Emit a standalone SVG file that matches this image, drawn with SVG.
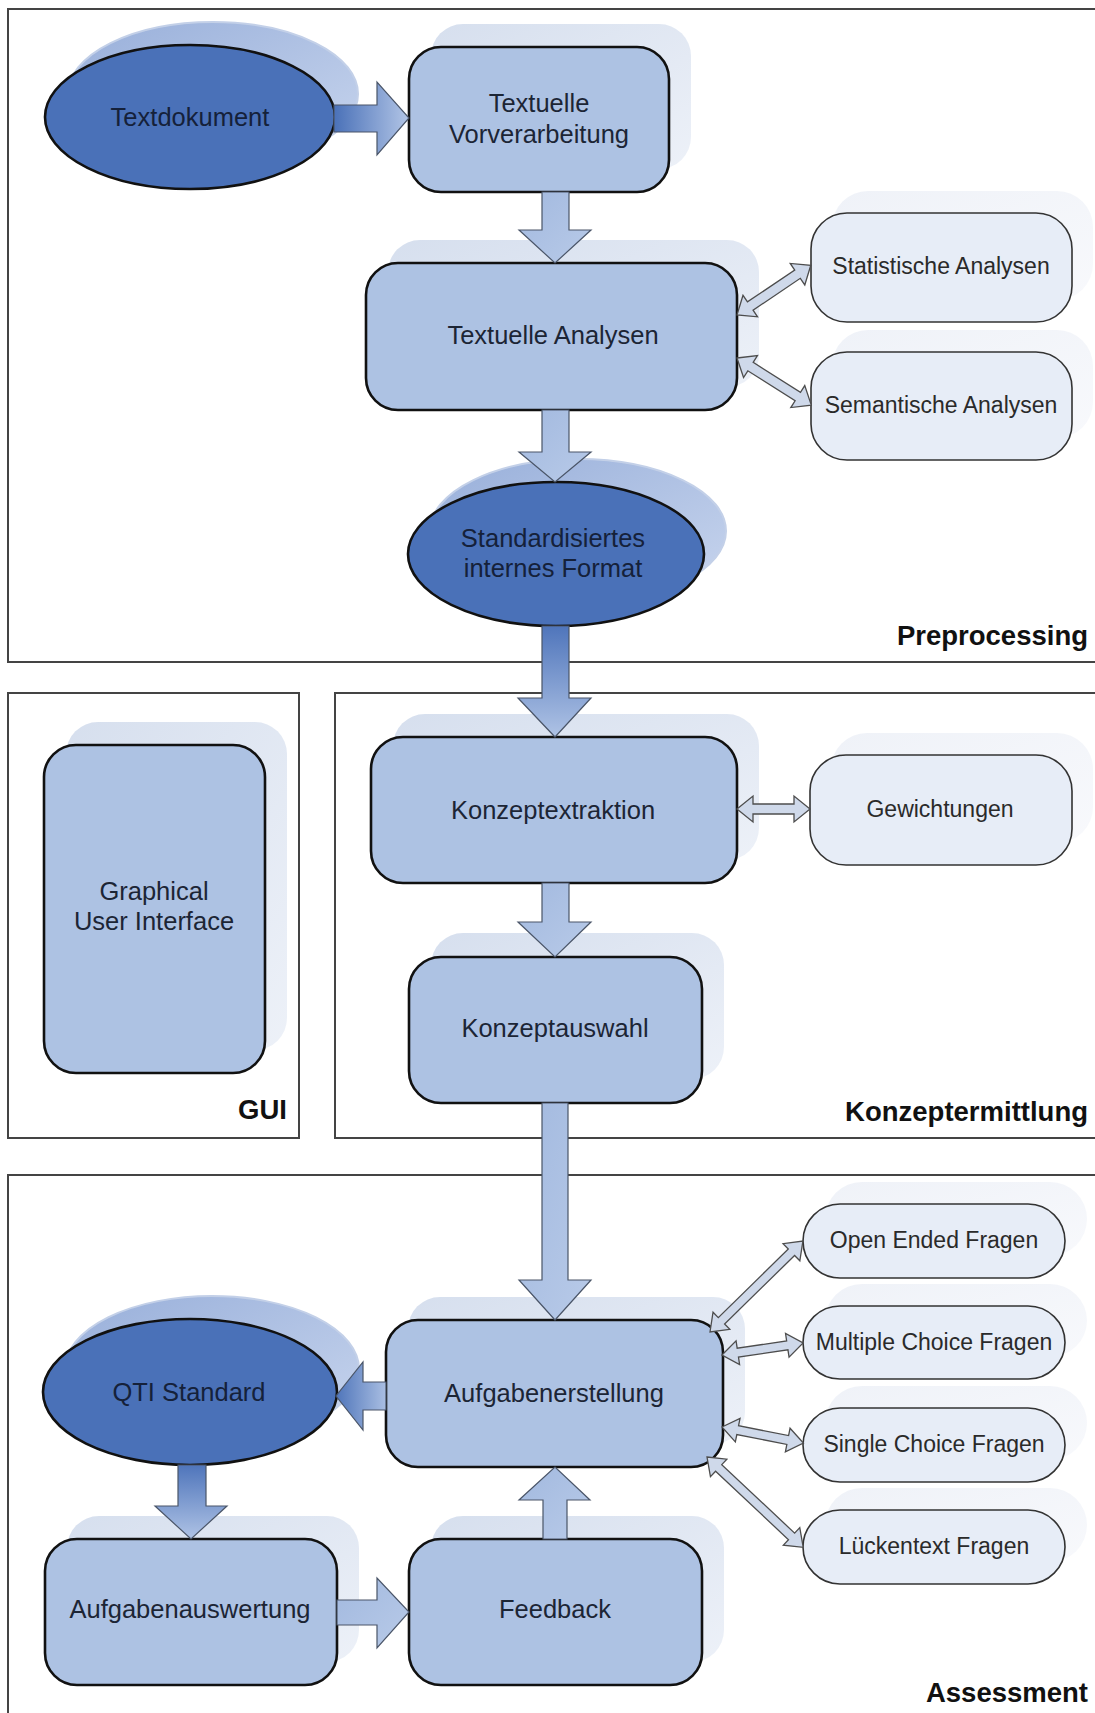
<svg xmlns="http://www.w3.org/2000/svg" width="1095" height="1713" viewBox="0 0 1095 1713">
<style>
.frame{fill:none;stroke:#444;stroke-width:2}
.box{fill:#adc2e3;stroke:#111;stroke-width:2.6}
.ell{fill:#4a71b8;stroke:#111;stroke-width:2.6}
.sat{fill:#e7edf7;stroke:#333;stroke-width:1.6}
.bsh{fill:url(#gBoxSh)}
.esh{fill:url(#gEllSh);stroke:#c3d0e8;stroke-width:2}
.ssh{fill:url(#gSatSh)}
.blk{stroke:#4a5568;stroke-width:1.2}
.dbl{fill:#cfd9ea;stroke:#4d4d4d;stroke-width:1.3}
.t{font-family:"Liberation Sans",Arial,sans-serif;font-size:25.5px;fill:#1c2535;text-anchor:middle}
.te{font-family:"Liberation Sans",Arial,sans-serif;font-size:25.5px;fill:#15213a;text-anchor:middle}
.s{font-family:"Liberation Sans",Arial,sans-serif;font-size:23px;fill:#2a2a2a;text-anchor:middle}
.lbl{font-family:"Liberation Sans",Arial,sans-serif;font-size:27.5px;font-weight:bold;fill:#111;text-anchor:end}
</style>
<defs>
<linearGradient id="gBoxSh" x1="0" y1="0" x2="1" y2="1">
<stop offset="0" stop-color="#d6dfee"/><stop offset="1" stop-color="#edf1f8"/>
</linearGradient>
<linearGradient id="gEllSh" x1="0" y1="0" x2="1" y2="1">
<stop offset="0" stop-color="#98afda"/><stop offset="1" stop-color="#c9d6ee"/>
</linearGradient>
<linearGradient id="gSatSh" x1="0" y1="0" x2="1" y2="1">
<stop offset="0" stop-color="#eff2f8"/><stop offset="1" stop-color="#f8f9fc"/>
</linearGradient>
<linearGradient id="gR" x1="0" y1="0" x2="1" y2="0">
<stop offset="0" stop-color="#4a71b8"/><stop offset="1" stop-color="#b2c5e6"/>
</linearGradient>
<linearGradient id="gL" x1="1" y1="0" x2="0" y2="0">
<stop offset="0" stop-color="#a9bee2"/><stop offset="1" stop-color="#4f75ba"/>
</linearGradient>
<linearGradient id="gD" x1="0" y1="0" x2="0" y2="1">
<stop offset="0" stop-color="#4f75bb"/><stop offset="1" stop-color="#afc3e5"/>
</linearGradient>
<linearGradient id="gLight" x1="0" y1="0" x2="1" y2="1">
<stop offset="0" stop-color="#a2b9df"/><stop offset="1" stop-color="#b8cae8"/>
</linearGradient>
</defs>
<rect width="1095" height="1713" fill="#fff"/>

<g id="frames">
<rect class="frame" x="8" y="9" width="1100" height="653"/>
<rect class="frame" x="8" y="693" width="291" height="445"/>
<rect class="frame" x="335" y="693" width="770" height="445"/>
<rect class="frame" x="8" y="1175" width="1100" height="600"/>
<text class="lbl" x="1088" y="645">Preprocessing</text>
<text class="lbl" x="287" y="1119">GUI</text>
<text class="lbl" x="1088" y="1121">Konzeptermittlung</text>
<text class="lbl" x="1088" y="1702">Assessment</text>
</g>

<g id="node-textdokument">
<ellipse class="esh" cx="213" cy="94" rx="145" ry="72"/>
<ellipse class="ell" cx="190" cy="117" rx="145" ry="72"/>
<text class="te" x="190" y="126">Textdokument</text>
</g>

<g id="node-vorverarbeitung">
<rect class="bsh" x="431" y="24" width="260" height="145" rx="32"/>
<rect class="box" x="409" y="47" width="260" height="145" rx="32"/>
<text class="t" x="539" y="112">Textuelle</text>
<text class="t" x="539" y="143">Vorverarbeitung</text>
</g>

<g id="node-textuelle-analysen">
<rect class="bsh" x="388" y="240" width="371" height="147" rx="32"/>
<rect class="box" x="366" y="263" width="371" height="147" rx="32"/>
<text class="t" x="553" y="344">Textuelle Analysen</text>
</g>

<g id="node-statistische">
<rect class="ssh" x="832" y="191" width="261" height="109" rx="36"/>
<rect class="sat" x="811" y="213" width="261" height="109" rx="36"/>
<text class="s" x="941" y="274">Statistische Analysen</text>
</g>

<g id="node-semantische">
<rect class="ssh" x="832" y="330" width="261" height="108" rx="36"/>
<rect class="sat" x="811" y="352" width="261" height="108" rx="36"/>
<text class="s" x="941" y="413">Semantische Analysen</text>
</g>

<g id="node-standardisiert">
<ellipse class="esh" cx="578" cy="531" rx="148" ry="72"/>
<ellipse class="ell" cx="556" cy="554" rx="148" ry="72"/>
<text class="te" x="553" y="547">Standardisiertes</text>
<text class="te" x="553" y="577">internes Format</text>
</g>

<g id="node-gui">
<rect class="bsh" x="66" y="722" width="221" height="328" rx="32"/>
<rect class="box" x="44" y="745" width="221" height="328" rx="32"/>
<text class="t" x="154" y="900">Graphical</text>
<text class="t" x="154" y="930">User Interface</text>
</g>

<g id="node-konzeptextraktion">
<rect class="bsh" x="393" y="714" width="366" height="146" rx="32"/>
<rect class="box" x="371" y="737" width="366" height="146" rx="32"/>
<text class="t" x="553" y="819">Konzeptextraktion</text>
</g>

<g id="node-gewichtungen">
<rect class="ssh" x="831" y="733" width="262" height="110" rx="36"/>
<rect class="sat" x="810" y="755" width="262" height="110" rx="36"/>
<text class="s" x="940" y="817">Gewichtungen</text>
</g>

<g id="node-konzeptauswahl">
<rect class="bsh" x="431" y="933" width="293" height="146" rx="32"/>
<rect class="box" x="409" y="957" width="293" height="146" rx="32"/>
<text class="t" x="555" y="1037">Konzeptauswahl</text>
</g>

<g id="node-aufgabenerstellung">
<rect class="bsh" x="408" y="1297" width="337" height="147" rx="32"/>
<rect class="box" x="386" y="1320" width="337" height="147" rx="32"/>
<text class="t" x="554" y="1402">Aufgabenerstellung</text>
</g>

<g id="node-qti">
<ellipse class="esh" cx="212" cy="1369" rx="147" ry="73"/>
<ellipse class="ell" cx="190" cy="1392" rx="147" ry="73"/>
<text class="te" x="189" y="1401">QTI Standard</text>
</g>

<g id="node-aufgabenauswertung">
<rect class="bsh" x="67" y="1516" width="292" height="146" rx="32"/>
<rect class="box" x="45" y="1539" width="292" height="146" rx="32"/>
<text class="t" x="190" y="1618">Aufgabenauswertung</text>
</g>

<g id="node-feedback">
<rect class="bsh" x="431" y="1516" width="293" height="146" rx="32"/>
<rect class="box" x="409" y="1539" width="293" height="146" rx="32"/>
<text class="t" x="555" y="1618">Feedback</text>
</g>

<g id="node-open-ended">
<rect class="ssh" x="825" y="1182" width="262" height="74" rx="37"/>
<rect class="sat" x="803" y="1204" width="262" height="74" rx="37"/>
<text class="s" x="934" y="1248">Open Ended Fragen</text>
</g>

<g id="node-multiple-choice">
<rect class="ssh" x="825" y="1284" width="262" height="73" rx="37"/>
<rect class="sat" x="803" y="1306" width="262" height="73" rx="37"/>
<text class="s" x="934" y="1350">Multiple Choice Fragen</text>
</g>

<g id="node-single-choice">
<rect class="ssh" x="825" y="1386" width="262" height="74" rx="37"/>
<rect class="sat" x="803" y="1408" width="262" height="74" rx="37"/>
<text class="s" x="934" y="1452">Single Choice Fragen</text>
</g>

<g id="node-lueckentext">
<rect class="ssh" x="825" y="1488" width="262" height="74" rx="37"/>
<rect class="sat" x="803" y="1510" width="262" height="74" rx="37"/>
<text class="s" x="934" y="1554">Lückentext Fragen</text>
</g>

<g id="connectors">
<polygon class="blk" fill="url(#gR)" points="334,105 377,105 377,82 409,118 377,155 377,132 334,132"/>
<polygon class="blk" fill="url(#gLight)" points="542,192 569,192 569,230 591,230 555,263 519,230 542,230"/>
<polygon class="blk" fill="url(#gLight)" points="542,410 569,410 569,452 591,452 555,482 519,452 542,452"/>
<polygon class="blk" fill="url(#gD)" points="542,626 569,626 569,698 591,698 555,737 518,698 542,698"/>
<polygon class="blk" fill="url(#gLight)" points="542,883 569,883 569,922 591,922 555,957 518,922 542,922"/>
<polygon class="blk" fill="url(#gLight)" points="542,1103 568,1103 568,1280 591,1280 555,1320 519,1280 542,1280"/>
<polygon class="blk" fill="url(#gL)" points="386,1382 363,1382 363,1362 336,1396 363,1430 363,1410 386,1410"/>
<polygon class="blk" fill="url(#gD)" points="178,1465 206,1465 206,1506 227,1506 191,1539 155,1506 178,1506"/>
<polygon class="blk" fill="url(#gLight)" points="337,1600 377,1600 377,1578 409,1612 377,1648 377,1625 337,1625"/>
<polygon class="blk" fill="url(#gLight)" points="543,1539 567,1539 567,1500 590,1500 555,1467 519,1500 543,1500"/>

<path class="dbl" transform="translate(737,315) rotate(-34)" d="M0,0 L16,-13 L16,-5 L73,-5 L73,-13 L89,0 L73,13 L73,5 L16,5 L16,13 Z"/>
<path class="dbl" transform="translate(737,358) rotate(32.4)" d="M0,0 L16,-13 L16,-5 L72,-5 L72,-13 L88,0 L72,13 L72,5 L16,5 L16,13 Z"/>
<path class="dbl" transform="translate(737,809)" d="M0,0 L16,-13 L16,-5 L57,-5 L57,-13 L73,0 L57,13 L57,5 L16,5 L16,13 Z"/>
<path class="dbl" transform="translate(710,1332) rotate(-44.4)" d="M0,0 L16,-12 L16,-4.5 L114,-4.5 L114,-12 L130,0 L114,12 L114,4.5 L16,4.5 L16,12 Z"/>
<path class="dbl" transform="translate(722,1355) rotate(-8.4)" d="M0,0 L16,-12 L16,-4.5 L66,-4.5 L66,-12 L82,0 L66,12 L66,4.5 L16,4.5 L16,12 Z"/>
<path class="dbl" transform="translate(722,1427) rotate(11.2)" d="M0,0 L16,-12 L16,-4.5 L67,-4.5 L67,-12 L83,0 L67,12 L67,4.5 L16,4.5 L16,12 Z"/>
<path class="dbl" transform="translate(707,1457) rotate(43.2)" d="M0,0 L16,-12 L16,-4.5 L116,-4.5 L116,-12 L132,0 L116,12 L116,4.5 L16,4.5 L16,12 Z"/>
</g>
</svg>
